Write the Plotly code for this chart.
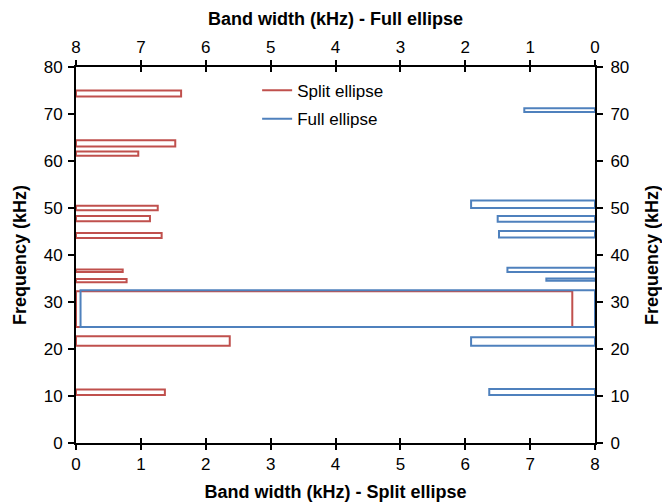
import plotly.graph_objects as go

# Frequency bands (kHz): lower edge, upper edge, and band width for each ellipse fit
split_lo = [73.7, 63.1, 61.1, 49.5, 47.2, 43.6, 36.4, 34.2, 24.7, 20.7, 10.2]
split_hi = [75.0, 64.4, 62.0, 50.5, 48.3, 44.7, 36.9, 34.9, 32.3, 22.7, 11.4]
split_bw = [1.62, 1.53, 0.96, 1.26, 1.14, 1.32, 0.72, 0.78, 7.65, 2.37, 1.37]

full_lo = [70.4, 50.0, 47.1, 43.7, 36.4, 34.5, 24.7, 20.7, 10.2]
full_hi = [71.2, 51.6, 48.3, 45.1, 37.3, 35.0, 32.5, 22.5, 11.5]
full_bw = [1.09, 1.91, 1.50, 1.48, 1.35, 0.75, 7.93, 1.91, 1.63]

x_ticks = [0, 1, 2, 3, 4, 5, 6, 7, 8]
y_ticks = [0, 10, 20, 30, 40, 50, 60, 70, 80]

RED = "#C0504D"
BLUE = "#4F81BD"
FONT = "Liberation Sans, Arial, sans-serif"


def centers(lo, hi):
    return [(a + b) / 2 for a, b in zip(lo, hi)]


def spans(lo, hi):
    return [b - a for a, b in zip(lo, hi)]


fig = go.Figure()

fig.add_trace(go.Bar(
    orientation="h",
    y=centers(split_lo, split_hi),
    x=split_bw,
    width=spans(split_lo, split_hi),
    base=0,
    marker=dict(color="rgba(255,255,255,0)", line=dict(color=RED, width=2)),
    xaxis="x", yaxis="y",
    showlegend=False,
    hoverinfo="skip",
))

fig.add_trace(go.Bar(
    orientation="h",
    y=centers(full_lo, full_hi),
    x=full_bw,
    width=spans(full_lo, full_hi),
    base=0,
    marker=dict(color="rgba(255,255,255,0)", line=dict(color=BLUE, width=2)),
    xaxis="x2", yaxis="y",
    showlegend=False,
    hoverinfo="skip",
))

# Empty traces so the secondary axes (right frequency axis, inner tick halves) are drawn
for xa, ya in [("x", "y2"), ("x3", "y"), ("x4", "y")]:
    fig.add_trace(go.Scatter(x=[None], y=[None], mode="lines", xaxis=xa, yaxis=ya,
                             showlegend=False, hoverinfo="skip"))

# Line-style legend entries
fig.add_trace(go.Scatter(x=[None], y=[None], mode="lines", name="Split ellipse",
                         line=dict(color=RED, width=2), legend="legend"))
fig.add_trace(go.Scatter(x=[None], y=[None], mode="lines", name="Full ellipse",
                         line=dict(color=BLUE, width=2), legend="legend2"))

tick_font = dict(family=FONT, size=17, color="black")
title_font = dict(family=FONT, size=18, color="black")

common_x = dict(
    range=[0, 8], tickvals=x_ticks, showgrid=False, zeroline=False,
    showline=True, linecolor="black", linewidth=2,
    ticks="outside", ticklen=5, tickwidth=2, tickcolor="black",
    tickfont=tick_font, automargin=False,
)

inner_x = dict(tickvals=x_ticks, anchor="y", overlaying="x",
               showgrid=False, zeroline=False, showline=False, showticklabels=False,
               ticks="inside", ticklen=5, tickwidth=2, tickcolor="black")

fig.update_layout(
    width=662, height=503,
    margin=dict(l=76, r=67, t=67, b=60),
    paper_bgcolor="white", plot_bgcolor="white",
    barmode="overlay",
    font=dict(family=FONT, color="black"),
    xaxis=dict(common_x, side="bottom", anchor="y",
               title=dict(text="<b>Band width (kHz) - Split ellipse</b>", font=title_font, standoff=12)),
    xaxis2=dict(common_x, side="top", anchor="y", overlaying="x", range=[8, 0],
                title=dict(text="<b>Band width (kHz) - Full ellipse</b>", font=title_font, standoff=8)),
    xaxis3=dict(inner_x, range=[0, 8], side="bottom"),
    xaxis4=dict(inner_x, range=[8, 0], side="top"),
    yaxis=dict(range=[0, 80], tickvals=y_ticks, side="left", showgrid=False, zeroline=False,
               showline=True, linecolor="black", linewidth=2,
               ticks="outside", ticklen=6, tickwidth=2, tickcolor="black",
               tickfont=tick_font, automargin=False, ticklabelstandoff=2,
               title=dict(text="<b>Frequency (kHz)</b>", font=title_font, standoff=12)),
    yaxis2=dict(range=[0, 80], tickvals=y_ticks, side="right", overlaying="y", anchor="x",
                showgrid=False, zeroline=False,
                showline=True, linecolor="black", linewidth=2,
                ticks="outside", ticklen=6, tickwidth=2, tickcolor="black",
                tickfont=tick_font, automargin=False, ticklabelstandoff=4,
                title=dict(text="<b>Frequency (kHz)</b>", font=title_font, standoff=18)),
    legend=dict(x=0.349, y=0.937, xanchor="left", yanchor="middle",
                bgcolor="rgba(0,0,0,0)", font=dict(family=FONT, size=17, color="black")),
    legend2=dict(x=0.349, y=0.861, xanchor="left", yanchor="middle",
                 bgcolor="rgba(0,0,0,0)", font=dict(family=FONT, size=17, color="black")),
)

fig.write_html("out.html")
